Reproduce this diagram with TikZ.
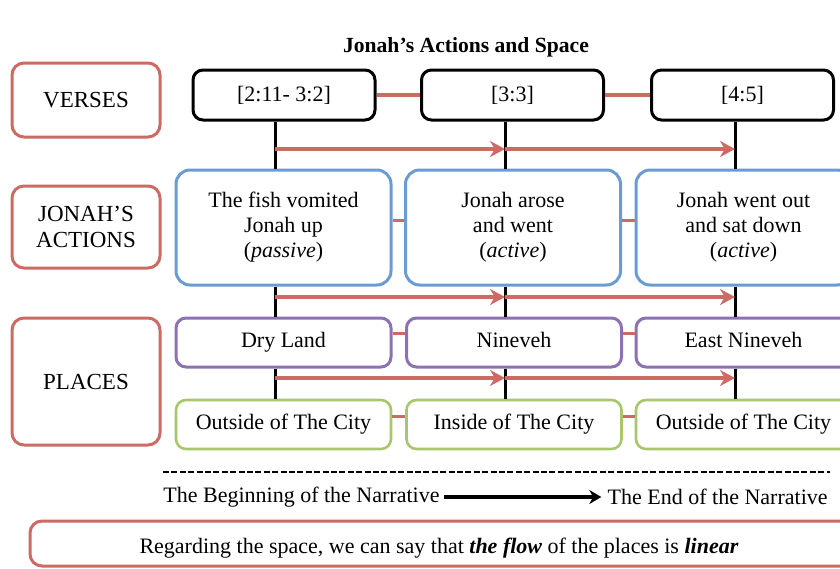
\documentclass[tikz,border=0pt]{standalone}
\usepackage{fontspec}
\setmainfont{Liberation Serif}
\usetikzlibrary{calc,arrows.meta}
\definecolor{link_red}{HTML}{CD6A63}
\definecolor{act_blue}{HTML}{6A9BD2}
\definecolor{place_purple}{HTML}{8C72B0}
\definecolor{city_green}{HTML}{A8C66C}

\begin{document}
\begin{tikzpicture}[x=0.5pt,y=-0.5pt,>=Stealth,
    labelbox/.style={draw=link_red, line width=1.5pt, rounded corners=6pt, minimum width=74pt, align=center, font=\fontsize{11.5}{13}\selectfont},
    versebox/.style={draw=black, line width=1.5pt, rounded corners=5pt, minimum width=91pt, minimum height=25pt, font=\fontsize{11}{13}\selectfont},
    actbox/.style={draw=act_blue, line width=1.5pt, rounded corners=7pt, minimum width=107.5pt, minimum height=57.5pt, align=center, font=\fontsize{11}{12.5}\selectfont},
    placebox/.style={draw=place_purple, line width=1.5pt, rounded corners=5pt, minimum width=107.5pt, minimum height=24.5pt, text height=7.5pt, text depth=2.5pt, font=\fontsize{11}{13}\selectfont},
    citybox/.style={draw=city_green, line width=1.3pt, rounded corners=5pt, minimum width=107.5pt, minimum height=24.5pt, text height=7.5pt, text depth=2.5pt, font=\fontsize{11}{13}\selectfont},
    link/.style={link_red, line width=1.6pt},
    flow/.style={link_red, line width=2pt, -{Stealth[length=7.5pt,width=8pt]}},
    spine/.style={black, line width=1.5pt}]

    % Cadre de l'image
    \clip (0,0) rectangle (840,568);

    % Titre
    \node[font=\bfseries\fontsize{10.8}{12}\selectfont] (title) at (466,47) {Jonah’s Actions and Space};

    % Etiquettes a gauche
    \node[labelbox, minimum height=37pt] (lverses) at (86,100) {VERSES};
    \node[labelbox, minimum height=41pt] (lactions) at (86,227) {JONAH’S\\ACTIONS};
    \node[labelbox, minimum height=63.5pt] (lplaces) at (86,381.5) {PLACES};

    % Colonnes des lignes verticales
    \coordinate (c1) at (275,0);
    \coordinate (c2) at (505,0);
    \coordinate (c3) at (735,0);

    % Versets
    \node[versebox] (verse1) at (284,95) {[2:11- 3:2]};
    \node[versebox] (verse2) at (512.5,95) {[3:3]};
    \node[versebox] (verse3) at (742.5,95) {[4:5]};

    % Actions de Jonas
    \node[actbox] (act1) at (283.5,227.5) {The fish vomited\\Jonah up\\(\textit{passive})};
    \node[actbox] (act2) at (513,227.5) {Jonah arose\\and went\\(\textit{active})};
    \node[actbox] (act3) at (743.5,227.5) {Jonah went out\\and sat down\\(\textit{active})};

    % Lieux
    \node[placebox] (place1) at (283.5,342.5) {Dry Land};
    \node[placebox] (place2) at (514,342.5) {Nineveh};
    \node[placebox] (place3) at (743.5,342.5) {East Nineveh};
    \node[citybox] (city1) at (283.5,424.5) {Outside of The City};
    \node[citybox] (city2) at (514,424.5) {Inside of The City};
    \node[citybox] (city3) at (743.5,424.5) {Outside of The City};

    % Liaisons horizontales
    \draw[link] (verse1.east) -- (verse2.west);
    \draw[link] (verse2.east) -- (verse3.west);
    \draw[link] ([yshift=3.5pt]act1.east) -- ([yshift=3.5pt]act2.west);
    \draw[link] ([yshift=3.5pt]act2.east) -- ([yshift=3.5pt]act3.west);
    \draw[link] ([yshift=4.5pt]place1.east) -- ([yshift=4.5pt]place2.west);
    \draw[link] ([yshift=4.5pt]place2.east) -- ([yshift=4.5pt]place3.west);
    \draw[link] ([yshift=4pt]city1.east) -- ([yshift=4pt]city2.west);
    \draw[link] ([yshift=4pt]city2.east) -- ([yshift=4pt]city3.west);

    % Lignes verticales noires
    \foreach \c/\a/\b/\d/\e in {c1/verse1/act1/place1/city1, c2/verse2/act2/place2/city2, c3/verse3/act3/place3/city3} {
        \draw[spine] (\a.south -| \c) -- (\b.north -| \c);
        \draw[spine] (\b.south -| \c) -- (\d.north -| \c);
        \draw[spine] (\d.south -| \c) -- (\e.north -| \c);
    }

    % Fleches rouges
    \foreach \y/\n in {149/a, 297/b, 378/c} {
        \coordinate (\n1) at (275,\y);
        \coordinate (\n2) at (505,\y);
        \coordinate (\n3) at (735,\y);
        \draw[flow] (\n1) -- (\n2);
        \draw[flow] (\n2) -- (\n3);
    }

    % Debut et fin du recit
    \coordinate (dashL) at (163,472);
    \coordinate (dashR) at (830,472);
    \draw[black, line width=0.6pt, dash pattern=on 3pt off 1.2pt] (dashL) -- (dashR);
    \node[anchor=west, inner sep=1pt, font=\fontsize{11}{13}\selectfont] (start) at (161,497) {The Beginning of the Narrative};
    \node[anchor=east, inner sep=1pt, font=\fontsize{11}{13}\selectfont] (finish) at (830,497) {The End of the Narrative};
    \draw[black, line width=2pt, -{Stealth[length=6pt,width=7pt]}] ([xshift=1pt]start.east) -- ([xshift=-2pt]finish.west);

    % Conclusion
    \node[draw=link_red, line width=1.5pt, rounded corners=6pt, minimum width=411pt, minimum height=22.5pt] (concl) at (441,543.5) {};
    \node[font=\fontsize{11}{13}\selectfont] (concltext) at (439,548) {Regarding the space, we can say that \textbf{\textit{the flow}} of the places is \textbf{\textit{linear}}};
\end{tikzpicture}
\end{document}
